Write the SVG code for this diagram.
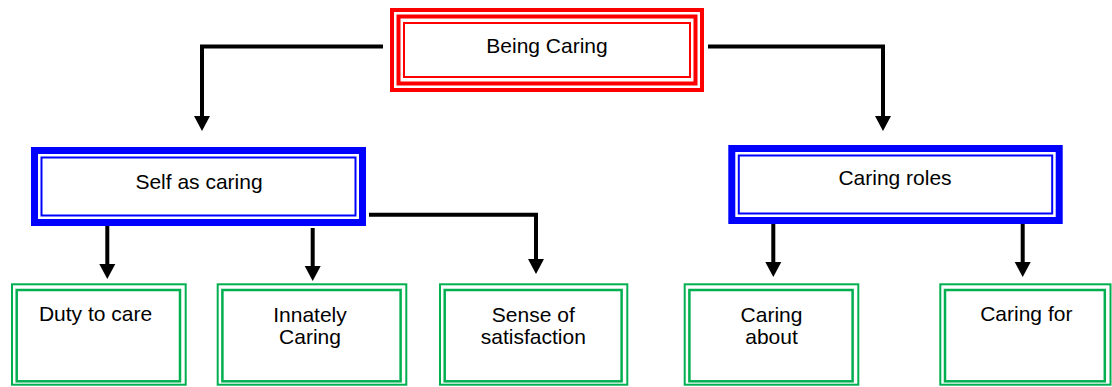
<svg xmlns="http://www.w3.org/2000/svg" width="1112" height="387" viewBox="0 0 1112 387">
  <style>
    .txt { font-family: "Liberation Sans", Arial, sans-serif; font-size: 21px; fill: #000; text-anchor: middle; }
    .red { fill: none; stroke: #FF0000; }
    .blue { fill: none; stroke: #0000FF; }
    .green { fill: none; stroke: #00B050; }
    .conn { fill: none; stroke: #000; stroke-width: 4; marker-end: url(#arrow); }
  </style>
  <defs>
    <marker id="arrow" markerUnits="userSpaceOnUse" markerWidth="15" markerHeight="16" refX="0" refY="8" orient="auto" overflow="visible">
      <path d="M0,0 L15,8 L0,16 Z" fill="#000"/>
    </marker>
  </defs>
  <rect width="1112" height="387" fill="#fff"/>

  <g id="connectors">
    <path class="conn" d="M383,46.5 H202 V116"/>
    <path class="conn" d="M708,46.5 H883 V116"/>
    <path class="conn" d="M107.3,226 V264"/>
    <path class="conn" d="M312.7,228 V266"/>
    <path class="conn" d="M369,214.7 H536 V259"/>
    <path class="conn" d="M773.3,224 V262"/>
    <path class="conn" d="M1022.7,224 V262"/>
  </g>

  <g id="being-caring">
    <rect x="392" y="10" width="310" height="80" fill="#fff" class="red" stroke-width="4"/>
    <rect x="398.5" y="16.5" width="297" height="67" class="red" stroke-width="4"/>
    <rect x="404" y="23" width="286" height="54" class="red" stroke-width="2"/>
    <text class="txt" x="547" y="53.3">Being Caring</text>
  </g>

  <g id="self-as-caring">
    <rect x="34.5" y="150.5" width="328" height="72" fill="#fff" class="blue" stroke-width="7"/>
    <rect x="41.5" y="157.5" width="314" height="58" class="blue" stroke-width="2"/>
    <text class="txt" x="199" y="189">Self as caring</text>
  </g>

  <g id="caring-roles">
    <rect x="731.8" y="148.5" width="327.4" height="72" fill="#fff" class="blue" stroke-width="7"/>
    <rect x="738.8" y="155.5" width="313.4" height="58" class="blue" stroke-width="2"/>
    <text class="txt" x="895" y="185">Caring roles</text>
  </g>

  <g id="duty-to-care">
    <rect x="12" y="284.3" width="173.7" height="100.4" class="green" stroke-width="2"/>
    <rect x="16.7" y="290" width="163.3" height="91.3" class="green" stroke-width="2.5"/>
    <text class="txt" x="95.5" y="321">Duty to care</text>
  </g>

  <g id="innately-caring">
    <rect x="217.7" y="284.3" width="188.6" height="100.4" class="green" stroke-width="2"/>
    <rect x="222.4" y="290" width="178.2" height="91.3" class="green" stroke-width="2.5"/>
    <text class="txt" x="310" y="321.5">Innately</text>
    <text class="txt" x="310" y="344">Caring</text>
  </g>

  <g id="sense-of-satisfaction">
    <rect x="440" y="284.3" width="187.3" height="100.4" class="green" stroke-width="2"/>
    <rect x="444.7" y="290" width="176.9" height="91.3" class="green" stroke-width="2.5"/>
    <text class="txt" x="533.3" y="321.5">Sense of</text>
    <text class="txt" x="533.3" y="344">satisfaction</text>
  </g>

  <g id="caring-about">
    <rect x="684.7" y="284.3" width="173.6" height="100.4" class="green" stroke-width="2"/>
    <rect x="689.4" y="290" width="163.2" height="91.3" class="green" stroke-width="2.5"/>
    <text class="txt" x="771.5" y="321.5">Caring</text>
    <text class="txt" x="771.5" y="344">about</text>
  </g>

  <g id="caring-for">
    <rect x="940.3" y="284.3" width="170.2" height="100.4" class="green" stroke-width="2"/>
    <rect x="945" y="290" width="159.8" height="91.3" class="green" stroke-width="2.5"/>
    <text class="txt" x="1026.3" y="321">Caring for</text>
  </g>
</svg>
